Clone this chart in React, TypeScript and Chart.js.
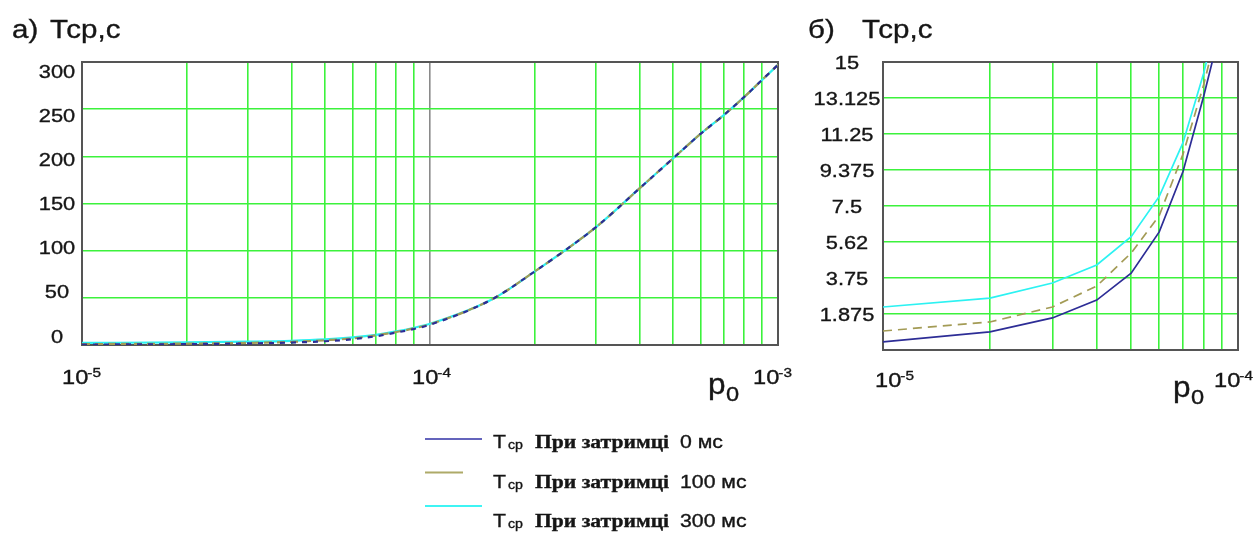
import { useEffect, useRef } from "react";
import { Chart, registerables } from "chart.js";
import type { ChartConfiguration, Plugin } from "chart.js";

Chart.register(...registerables);

// Error probability p0 and mean transfer time Tср (s) for three retransmission delays.
const p0 = [
  1e-5, 2e-5, 3e-5, 4e-5, 5e-5, 6e-5, 7e-5, 8e-5, 9e-5, 1e-4,
  1.5e-4, 2e-4, 3e-4, 4e-4, 5e-4, 6e-4, 7e-4, 8e-4, 9e-4, 1e-3,
];
const tcpDelay0 = [
  0.42, 0.94, 1.67, 2.6, 4.0, 6.15, 9.3, 13.2, 17.0, 21.5,
  48, 78, 125, 166, 198, 224, 244, 263, 281, 297,
];
const tcpDelay100 = [
  0.99, 1.46, 2.24, 3.33, 5.05, 7.0, 10.2, 13.8, 17.6, 22,
  48, 78, 125, 166, 198, 224, 244, 263, 281, 297,
];
const tcpDelay300 = [
  2.24, 2.7, 3.49, 4.43, 5.9, 8.0, 10.8, 14.4, 18.3, 22.5,
  48, 78, 125, 166, 198, 224, 244, 263, 281, 297,
];
const delayLabels = ["0 мс", "100 мс", "300 мс"];

// Axis ticks
const leftYTicks = [0, 50, 100, 150, 200, 250, 300];
const leftYTickLabels = ["0", "50", "100", "150", "200", "250", "300"];
const rightYTicks = [1.875, 3.75, 5.625, 7.5, 9.375, 11.25, 13.125, 15];
const rightYTickLabels = ["1.875", "3.75", "5.62", "7.5", "9.375", "11.25", "13.125", "15"];
const leftDecades = [1e-5, 1e-4, 1e-3];
const rightDecades = [1e-5, 1e-4];

const SANS = '"Liberation Sans", Arial, sans-serif';
const SERIF = '"Liberation Serif", "Times New Roman", serif';
const INK = "#161616";
const GRID = "#3cf23c";
const DECADE_GRID = "#8a8a8a";
const FRAME = "#555555";
const SX = 1.18; // text is set slightly wide

const seriesStyle = [
  { color: "#2d2d96", legend: "#6464bc", dashLeft: [5, 6], dashRight: [] as number[] },
  { color: "#a39b55", legend: "#aeaa68", dashLeft: [8, 5], dashRight: [9, 6] },
  { color: "#2cf2f2", legend: "#3ff4f4", dashLeft: [] as number[], dashRight: [] as number[] },
];
const seriesData = [tcpDelay0, tcpDelay100, tcpDelay300];

function drawText(
  ctx: CanvasRenderingContext2D,
  text: string,
  x: number,
  y: number,
  font: string,
  align: "left" | "center" | "right" = "left",
  sx = SX,
  color = INK
) {
  ctx.save();
  ctx.font = font;
  ctx.fillStyle = color;
  ctx.strokeStyle = color;
  ctx.lineWidth = 0.35;
  ctx.textBaseline = "alphabetic";
  ctx.textAlign = "left";
  const w = ctx.measureText(text).width * sx;
  const x0 = align === "left" ? x : align === "center" ? x - w / 2 : x - w;
  ctx.translate(x0, y);
  ctx.scale(sx, 1);
  ctx.fillText(text, 0, 0);
  ctx.strokeText(text, 0, 0);
  ctx.restore();
  return w;
}

function textWidth(ctx: CanvasRenderingContext2D, text: string, font: string, sx = SX) {
  ctx.save();
  ctx.font = font;
  const w = ctx.measureText(text).width * sx;
  ctx.restore();
  return w;
}

interface PanelSpec {
  id: string;
  letter: string;
  x: number;
  width: number;
  height: number;
  padding: { left: number; top: number; right: number; bottom: number };
  xMin: number;
  xMax: number;
  yMax: number;
  yTicks: number[];
  yTickLabels: string[];
  decades: number[];
  decadeNudge: number[];
  decadeDrop: number;
  yLabelDx: number;
  yLabelInset: boolean;
  grayDecades: boolean;
  titleX: number;
  quantityX: number;
  pDx: number;
  pDrop: number;
  wide: boolean;
  legend: boolean;
}

function logGrid(min: number, max: number) {
  const out: number[] = [];
  for (let e = Math.round(Math.log10(min)); e < Math.round(Math.log10(max)); e++) {
    for (let k = 1; k <= 9; k++) out.push(Number((k * Math.pow(10, e)).toPrecision(6)));
  }
  out.push(max);
  return out;
}

function isDecade(v: number) {
  const l = Math.log10(v);
  return Math.abs(l - Math.round(l)) < 1e-6;
}

function decorPlugin(spec: PanelSpec): Plugin<"line"> {
  return {
    id: "panelDecor",
    beforeDatasetsDraw(chart) {
      const { ctx, chartArea: a } = chart;
      ctx.save();
      ctx.strokeStyle = FRAME;
      ctx.lineWidth = 2;
      ctx.strokeRect(a.left, a.top, a.right - a.left, a.bottom - a.top);
      ctx.restore();
    },
    afterDraw(chart) {
      const { ctx, chartArea: a } = chart;
      const xs = chart.scales.x;
      const ys = chart.scales.y;

      // title
      drawText(ctx, spec.letter, spec.titleX, 38, `25px ${SANS}`);
      drawText(ctx, "Тср,с", spec.quantityX, 38, `25px ${SANS}`);

      // value labels on the y axis
      const fs = 18.5;
      const H = a.bottom - a.top;
      spec.yTicks.forEach((v, i) => {
        let cy = ys.getPixelForValue(v);
        if (spec.yLabelInset) cy = a.top + 9 + ((cy - a.top) * (H - 18)) / H;
        drawText(ctx, spec.yTickLabels[i], a.left - spec.yLabelDx, cy + fs * 0.358, `${fs}px ${SANS}`, "center");
      });

      // decade labels 10^n on the x axis
      const bigF = `20px ${SANS}`;
      const supF = `13px ${SANS}`;
      spec.decades.forEach((v, i) => {
        const exp = String(Math.round(Math.log10(v)));
        const w1 = textWidth(ctx, "10", bigF);
        const w2 = textWidth(ctx, exp, supF);
        const cx = xs.getPixelForValue(v) + spec.decadeNudge[i];
        const x0 = cx - (w1 + w2) / 2;
        const base = a.bottom + spec.decadeDrop;
        drawText(ctx, "10", x0, base, bigF);
        drawText(ctx, exp, x0 + w1 - 1, base - 7, supF);
      });

      // axis quantity p0
      const px = a.right + spec.pDx;
      const pb = a.bottom + spec.pDrop;
      drawText(ctx, "p", px, pb, `30px ${SANS}`, "left", 1.05);
      drawText(ctx, "0", px + 18, pb + 7, `20px ${SANS}`);

      if (spec.legend) drawKey(ctx);
    },
  };
}

// Series key under the charts
function drawKey(ctx: CanvasRenderingContext2D) {
  seriesStyle.forEach((s, i) => {
    const ly = 439 + i * 33.5;
    const tb = 448 + i * 39.5;
    const x1 = s.dashRight.length ? 463 : 482;
    ctx.save();
    ctx.strokeStyle = s.legend;
    ctx.lineWidth = 2;
    ctx.beginPath();
    ctx.moveTo(425, ly);
    ctx.lineTo(x1, ly);
    ctx.stroke();
    ctx.restore();
    drawText(ctx, "Т", 493, tb, `18px ${SANS}`);
    drawText(ctx, "ср", 508, tb + 1, `12px ${SANS}`);
    drawText(ctx, "При затримці", 535, tb, `bold 18px ${SERIF}`, "left", 1.2);
    drawText(ctx, delayLabels[i], 680, tb, `18px ${SANS}`);
  });
}

function buildConfig(spec: PanelSpec): ChartConfiguration<"line"> {
  const xGrid = logGrid(spec.xMin, spec.xMax);
  const yGrid = [0, ...spec.yTicks];
  return {
    type: "line",
    data: {
      datasets: seriesData.map((vals, i) => {
        const st = seriesStyle[i];
        return {
          label: `Тср При затримці ${delayLabels[i]}`,
          data: p0.map((x, j) => ({ x, y: vals[j] })),
          borderColor: st.color,
          borderWidth: spec.wide ? 2.2 : 1.7,
          borderDash: spec.wide ? st.dashLeft : st.dashRight,
          pointRadius: 0,
          fill: false,
          tension: 0,
          cubicInterpolationMode: spec.wide ? "monotone" : "default",
          order: spec.wide ? i : 2 - i,
        };
      }),
    },
    options: {
      responsive: false,
      animation: false,
      events: [],
      layout: { padding: spec.padding, autoPadding: false },
      plugins: { legend: { display: false }, tooltip: { enabled: false }, title: { display: false } },
      scales: {
        x: {
          type: "logarithmic",
          min: spec.xMin,
          max: spec.xMax,
          afterBuildTicks: (s) => {
            s.ticks = xGrid.map((value) => ({ value }));
          },
          afterFit: (s) => {
            s.height = 0;
          },
          ticks: { display: false },
          border: { display: false },
          grid: {
            drawTicks: false,
            lineWidth: 1.6,
            color: (c) =>
              spec.grayDecades && isDecade(c.tick.value) && c.tick.value > spec.xMin && c.tick.value < spec.xMax
                ? DECADE_GRID
                : GRID,
          },
        },
        y: {
          type: "linear",
          min: 0,
          max: spec.yMax,
          afterBuildTicks: (s) => {
            s.ticks = yGrid.map((value) => ({ value }));
          },
          afterFit: (s) => {
            s.width = 0;
          },
          ticks: { display: false },
          border: { display: false },
          grid: { drawTicks: false, lineWidth: 1.6, color: GRID },
        },
      },
    },
    plugins: [decorPlugin(spec)],
  };
}

const leftPanel: PanelSpec = {
  id: "a",
  letter: "a)",
  x: 0,
  width: 800,
  height: 537,
  padding: { left: 82, top: 62, right: 22, bottom: 192 },
  xMin: 1e-5,
  xMax: 1e-3,
  yMax: 300,
  yTicks: leftYTicks,
  yTickLabels: leftYTickLabels,
  decades: leftDecades,
  decadeNudge: [0, 2, -5],
  decadeDrop: 39,
  yLabelDx: 25,
  yLabelInset: true,
  grayDecades: true,
  titleX: 12,
  quantityX: 50,
  pDx: -70,
  pDrop: 49,
  wide: true,
  legend: true,
};

const rightPanel: PanelSpec = {
  id: "b",
  letter: "б)",
  x: 800,
  width: 457,
  height: 420,
  padding: { left: 83, top: 62, right: 19, bottom: 70 },
  xMin: 1e-5,
  xMax: 1e-4,
  yMax: 15,
  yTicks: rightYTicks,
  yTickLabels: rightYTickLabels,
  decades: rightDecades,
  decadeNudge: [12, -4],
  decadeDrop: 37,
  yLabelDx: 36,
  yLabelInset: false,
  grayDecades: false,
  titleX: 8,
  quantityX: 62,
  pDx: -65,
  pDrop: 47,
  wide: false,
  legend: false,
};

function Panel({ spec }: { spec: PanelSpec }) {
  const ref = useRef<HTMLCanvasElement>(null);
  useEffect(() => {
    if (!ref.current) return;
    const chart = new Chart(ref.current, buildConfig(spec));
    return () => chart.destroy();
  }, [spec]);
  return (
    <canvas
      ref={ref}
      width={spec.width}
      height={spec.height}
      style={{ position: "absolute", left: spec.x, top: 0, width: spec.width, height: spec.height, display: "block" }}
    />
  );
}

export default function App() {
  return (
    <div
      style={{
        position: "fixed",
        left: 0,
        top: 0,
        width: 1257,
        height: 537,
        background: "#ffffff",
        overflow: "hidden",
      }}
    >
      <Panel spec={leftPanel} />
      <Panel spec={rightPanel} />
    </div>
  );
}
